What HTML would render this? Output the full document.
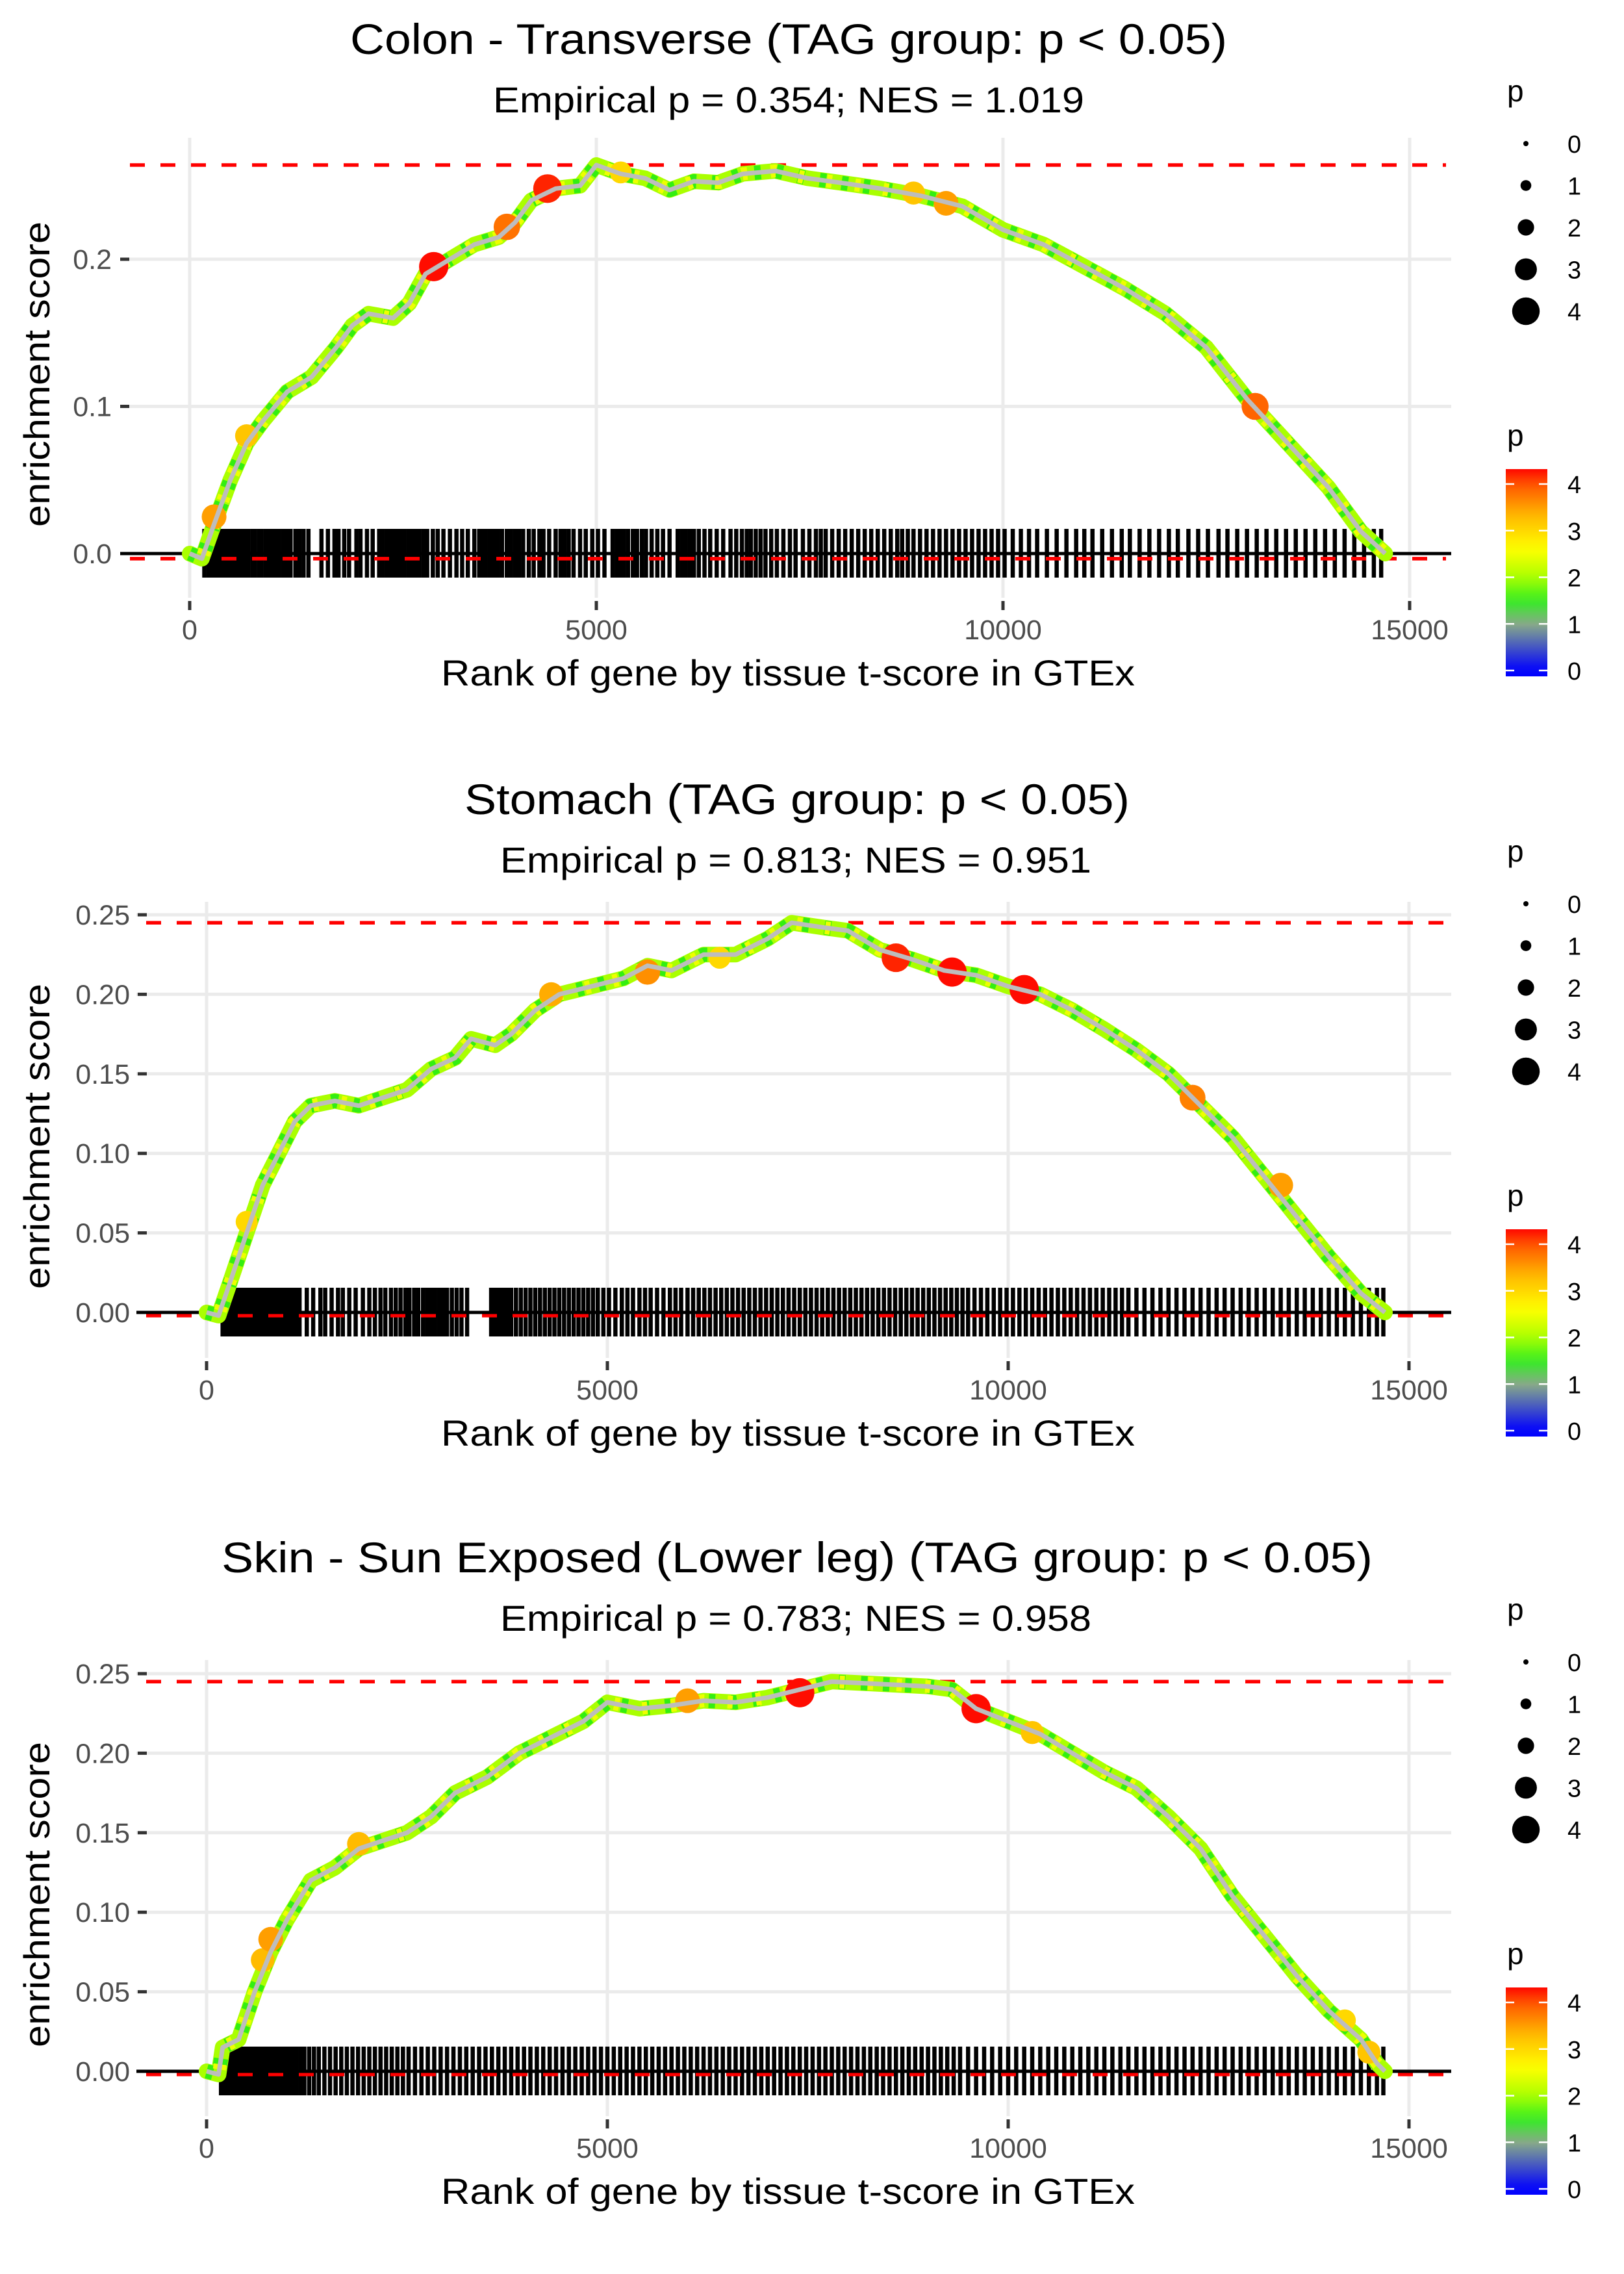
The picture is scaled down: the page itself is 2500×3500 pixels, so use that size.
<!DOCTYPE html>
<html><head><meta charset="utf-8"><style>
html,body{margin:0;padding:0;background:#fff;}
svg{display:block;font-family:"Liberation Sans",sans-serif;}
</style></head><body>
<svg id="fig" xmlns="http://www.w3.org/2000/svg" width="2500" height="3500" viewBox="0 0 2500 3500">
<defs>
<linearGradient id="pgrad" x1="0" y1="1" x2="0" y2="0" gradientUnits="objectBoundingBox"></linearGradient>
</defs>
<rect x="0" y="0" width="2500" height="3500" fill="#fff"/>
</svg>
<script>
// ---------- data ----------
const titles = ["Colon - Transverse (TAG group: p < 0.05)","Stomach (TAG group: p < 0.05)","Skin - Sun Exposed (Lower leg) (TAG group: p < 0.05)"];
const subtitles = ["Empirical p = 0.354; NES = 1.019","Empirical p = 0.813; NES = 0.951","Empirical p = 0.783; NES = 0.958"];
const xTicks = [0,5000,10000,15000];
const xTickLabels = ["0","5000","10000","15000"];
const yTicks1 = [0,0.1,0.2];
const yTickLabels1 = ["0.0","0.1","0.2"];
const yTicks23 = [0,0.05,0.1,0.15,0.2,0.25];
const yTickLabels23 = ["0.00","0.05","0.10","0.15","0.20","0.25"];

const esRanks1 = [0,150,300,500,700,900,1200,1500,1800,2000,2200,2500,2700,2900,3200,3500,3800,4000,4200,4500,4800,5000,5300,5600,5900,6200,6500,6800,7200,7600,8000,8500,9000,9500,10000,10500,11000,11500,12000,12500,13000,13500,14000,14400,14700];
const esVals1  = [0,-0.0035,0.02,0.05,0.075,0.09,0.11,0.12,0.14,0.155,0.163,0.16,0.17,0.19,0.2,0.21,0.215,0.225,0.24,0.248,0.25,0.264,0.258,0.255,0.247,0.253,0.252,0.258,0.26,0.255,0.252,0.248,0.243,0.236,0.22,0.21,0.195,0.18,0.163,0.14,0.105,0.075,0.045,0.015,0];
const bigRanks1 = [300,700,3000,3900,4400,5300,8900,9300,13100];
const bigVals1  = [0.025,0.08,0.195,0.222,0.248,0.259,0.245,0.238,0.1];
const bigP1     = [3.5,3.2,4.3,3.8,4.2,3.0,3.2,3.5,3.9];

const esRanks2 = [0,150,300,500,700,900,1100,1300,1600,1900,2200,2500,2800,3100,3300,3600,3800,4100,4400,4800,5200,5500,5800,6200,6600,7000,7300,7700,8000,8400,8800,9200,9600,10000,10400,10800,11200,11600,12000,12400,12800,13200,13600,14000,14400,14700];
const esVals2  = [0,-0.002,0.02,0.05,0.08,0.1,0.12,0.13,0.133,0.13,0.135,0.14,0.153,0.16,0.172,0.168,0.175,0.19,0.2,0.205,0.21,0.218,0.215,0.225,0.225,0.235,0.245,0.242,0.24,0.228,0.222,0.215,0.212,0.205,0.2,0.19,0.178,0.165,0.15,0.13,0.11,0.085,0.06,0.035,0.012,0];
const bigRanks2 = [500,4300,5500,6400,8600,9300,10200,12300,13400];
const bigVals2  = [0.057,0.2,0.214,0.223,0.223,0.214,0.203,0.135,0.08];
const bigP2     = [3.0,3.4,3.6,3.0,4.2,4.3,4.3,3.7,3.5];

const esRanks3 = [0,150,200,400,600,800,1000,1300,1600,1900,2200,2500,2800,3100,3500,3900,4300,4700,5000,5400,5800,6200,6600,7000,7400,7800,8200,8600,9000,9300,9600,10000,10400,10800,11200,11600,12000,12400,12800,13200,13600,14000,14400,14600,14700];
const esVals3  = [0,-0.002,0.015,0.02,0.05,0.075,0.095,0.12,0.128,0.14,0.145,0.15,0.16,0.175,0.185,0.2,0.21,0.22,0.232,0.228,0.23,0.233,0.232,0.235,0.24,0.245,0.244,0.243,0.242,0.24,0.228,0.22,0.212,0.2,0.188,0.178,0.16,0.14,0.11,0.085,0.06,0.038,0.02,0.005,0];
const bigRanks3 = [700,800,1900,6000,7400,9600,10300,14200,14500];
const bigVals3  = [0.07,0.083,0.143,0.233,0.238,0.228,0.213,0.032,0.012];
const bigP3     = [3.3,3.5,3.3,3.5,4.3,4.3,3.2,3.0,3.2];

const hits1 = [180,230,260,300,340,370,410,450,480,520,560,590,640,680,720,770,800,850,880,930,970,1010,1060,1100,1150,1190,1240,1300,1350,1400,1460,1620,1700,1780,1830,1900,1960,2050,2100,2180,2250,2330,2370,2420,2460,2510,2560,2600,2640,2690,2740,2780,2820,2870,2920,2990,3050,3120,3200,3280,3350,3420,3500,3560,3600,3640,3690,3740,3790,3840,3900,3950,4000,4050,4100,4170,4230,4300,4350,4420,4500,4560,4610,4660,4720,4800,4870,4950,5020,5100,5200,5250,5300,5340,5390,5450,5500,5560,5610,5680,5750,5820,5900,6000,6050,6100,6150,6200,6260,6330,6400,6480,6560,6650,6720,6790,6850,6900,6960,7020,7080,7150,7220,7300,7380,7450,7540,7620,7700,7760,7820,7900,7980,8060,8140,8220,8300,8380,8460,8540,8620,8700,8760,8830,8900,8980,9060,9140,9220,9300,9380,9460,9540,9620,9700,9780,9860,9940,10020,10120,10220,10320,10420,10540,10660,10780,10900,11000,11100,11220,11340,11460,11560,11680,11800,11920,12040,12150,12280,12400,12520,12650,12760,12880,13000,13120,13240,13360,13480,13600,13720,13840,13960,14080,14200,14320,14440,14560,14650];
const hits2 = [200,240,280,310,350,380,420,450,490,530,560,600,640,680,710,750,790,830,860,900,940,980,1020,1060,1110,1160,1250,1330,1420,1480,1560,1640,1700,1780,1860,1950,2030,2100,2170,2230,2300,2360,2420,2480,2530,2590,2640,2700,2750,2800,2850,2900,2950,3000,3060,3120,3180,3250,3550,3600,3650,3700,3750,3800,3860,3920,3980,4040,4100,4160,4220,4280,4340,4400,4460,4520,4580,4640,4700,4760,4820,4880,4950,5020,5100,5180,5250,5320,5400,5470,5540,5620,5700,5780,5850,5920,6000,6070,6140,6210,6280,6350,6420,6490,6560,6630,6700,6770,6840,6910,6980,7050,7120,7190,7260,7330,7400,7470,7540,7610,7680,7750,7820,7890,7960,8030,8100,8170,8240,8310,8380,8450,8520,8590,8660,8730,8800,8870,8940,9010,9080,9150,9220,9290,9360,9430,9500,9580,9660,9740,9820,9900,9980,10060,10140,10220,10300,10380,10460,10540,10620,10700,10780,10860,10940,11020,11100,11180,11260,11340,11420,11500,11600,11700,11800,11900,12000,12100,12200,12300,12400,12500,12600,12700,12800,12900,13000,13100,13200,13300,13400,13500,13600,13700,13800,13900,14000,14100,14200,14300,14400,14500,14600,14680];
const hits3 = [180,220,260,300,340,380,420,460,500,540,580,620,660,700,740,780,820,860,900,940,980,1020,1070,1120,1170,1220,1280,1340,1400,1470,1540,1610,1680,1750,1820,1890,1960,2030,2100,2170,2240,2310,2380,2450,2520,2600,2680,2760,2840,2920,3000,3080,3160,3240,3320,3400,3480,3560,3640,3720,3800,3880,3960,4040,4120,4200,4280,4360,4440,4520,4600,4680,4760,4840,4920,5000,5080,5160,5240,5320,5400,5480,5560,5640,5720,5800,5880,5960,6040,6120,6200,6280,6360,6440,6520,6600,6680,6760,6840,6920,7000,7080,7160,7240,7320,7400,7480,7560,7640,7720,7800,7880,7960,8040,8120,8200,8280,8360,8440,8520,8600,8680,8760,8840,8920,9000,9080,9160,9240,9320,9400,9500,9600,9700,9800,9900,10000,10100,10200,10300,10400,10500,10600,10700,10800,10900,11000,11100,11200,11300,11400,11500,11600,11700,11800,11900,12000,12100,12200,12300,12400,12500,12600,12700,12800,12900,13000,13100,13200,13300,13400,13500,13600,13700,13800,13900,14000,14100,14200,14300,14400,14500,14600,14680];

const sizeLegendValues = [0,1,2,3,4];
const colorLegendValues = [0,1,2,3,4];

// ---------- helpers ----------
const NS = "http://www.w3.org/2000/svg";
const svg = document.getElementById("fig");
function mk(tag, attrs, parent){
  const e = document.createElementNS(NS, tag);
  for (const k in attrs) e.setAttribute(k, attrs[k]);
  (parent || svg).appendChild(e);
  return e;
}
const stops = [[0,[0,0,255]],[1,[136,170,136]],[1.5,[51,238,34]],[2,[170,255,0]],[2.6,[255,255,0]],[3.3,[255,187,0]],[4,[255,85,0]],[4.35,[255,0,0]]];
function pColor(p){
  if (p <= stops[0][0]) return "rgb(0,0,255)";
  for (let i=1;i<stops.length;i++){
    if (p <= stops[i][0]){
      const a=stops[i-1], b=stops[i], t=(p-a[0])/(b[0]-a[0]);
      const c=a[1].map((v,j)=>Math.round(v+(b[1][j]-v)*t));
      return "rgb("+c.join(",")+")";
    }
  }
  return "rgb(255,0,0)";
}
function pRadius(p){ return 4 + 4.3*p; }

const grad = document.getElementById("pgrad");
for (let k=0;k<=20;k++){
  const p = -0.12 + (4.32+0.12)*k/20;
  mk("stop", {offset:(k/20), "stop-color":pColor(p)}, grad);
}

const panels = [
  {dy:0, ox:292, kx:626/5000, oy:852, ky:2265, left:185, right:2234, top:212, bottom:920, tickL:185, tickR:199, labR:172,
   ranks:esRanks1, vals:esVals1, bR:bigRanks1, bV:bigVals1, bP:bigP1, hits:hits1, yt:yTicks1, ytl:yTickLabels1, titleX:1214, subX:1214, titleLen:1350, subLen:910},
  {dy:1170, ox:318, kx:617/5000, oy:2020, ky:2448, left:210, right:2234, top:1388, bottom:2090, tickL:212, tickR:226, labR:200,
   ranks:esRanks2, vals:esVals2, bR:bigRanks2, bV:bigVals2, bP:bigP2, hits:hits2, yt:yTicks23, ytl:yTickLabels23, titleX:1227, subX:1225, titleLen:1024, subLen:910},
  {dy:2337, ox:318, kx:617/5000, oy:3188, ky:2448, left:210, right:2234, top:2555, bottom:3257, tickL:212, tickR:226, labR:200,
   ranks:esRanks3, vals:esVals3, bR:bigRanks3, bV:bigVals3, bP:bigP3, hits:hits3, yt:yTicks23, ytl:yTickLabels23, titleX:1227, subX:1225, titleLen:1772, subLen:910}
];

panels.forEach((P, idx) => {
  const g = mk("g", {});
  
  
  const X = r => P.ox + r*P.kx;
  const Y = v => P.oy - v*P.ky;

  const t = mk("text", {x:P.titleX, y:83+P.dy, "text-anchor":"middle", "font-size":66, fill:"#000", textLength:P.titleLen, lengthAdjust:"spacingAndGlyphs"}, g);
  t.textContent = titles[idx];
  
  
  const st = mk("text", {x:P.subX, y:173+P.dy, "text-anchor":"middle", "font-size":56, fill:"#000", textLength:P.subLen, lengthAdjust:"spacingAndGlyphs"}, g);
  st.textContent = subtitles[idx];
  
  

  const grid = mk("g", {stroke:"#ebebeb", "stroke-width":5}, g);
  
  
  P.yt.forEach(v => { mk("line", {x1:P.left, x2:P.right, y1:Y(v), y2:Y(v)}, grid); });
  xTicks.forEach(r => { mk("line", {x1:X(r), x2:X(r), y1:P.top, y2:P.bottom}, grid); });

  P.yt.forEach((v,i) => {
    const tk = mk("line", {x1:P.tickL, x2:P.tickR, y1:Y(v), y2:Y(v), stroke:"#333", "stroke-width":5}, g);
    
    
    const lb = mk("text", {x:P.labR, y:Y(v)+15, "text-anchor":"end", "font-size":43, fill:"#4d4d4d"}, g);
    lb.textContent = P.ytl[i];
    
    
  });
  xTicks.forEach((r,i) => {
    const tk = mk("line", {x1:X(r), x2:X(r), y1:P.bottom+5, y2:P.bottom+19, stroke:"#333", "stroke-width":5}, g);
    
    
    const lb = mk("text", {x:X(r), y:P.bottom+64, "text-anchor":"middle", "font-size":43, fill:"#4d4d4d"}, g);
    lb.textContent = xTickLabels[i];
    
    
  });
  const xt = mk("text", {x:1213, y:P.bottom+135, "text-anchor":"middle", "font-size":56, fill:"#000", textLength:1068, lengthAdjust:"spacingAndGlyphs"}, g);
  xt.textContent = "Rank of gene by tissue t-score in GTEx";
  
  
  const ycy = (P.top + P.bottom)/2 + 10;
  const yt = mk("text", {x:0, y:0, "text-anchor":"middle", "font-size":56, fill:"#000", transform:"translate(76,"+ycy+") rotate(-90)", textLength:470, lengthAdjust:"spacingAndGlyphs"}, g);
  yt.textContent = "enrichment score";
  
  

  const bc = mk("g", {stroke:"#000", "stroke-width":6.5}, g);
  
  
  P.hits.forEach(r => { mk("line", {x1:X(r), x2:X(r), y1:P.oy-38, y2:P.oy+37}, bc); });

  const maxV = Math.max(...P.vals), minV = Math.min(...P.vals);
  const mx = mk("line", {x1:P.left+15, x2:P.right-8, y1:Y(maxV), y2:Y(maxV), stroke:"#ff0000", "stroke-width":5.5, "stroke-dasharray":"23 24"}, g);
  
  
  const mn = mk("line", {x1:P.left+15, x2:P.right-8, y1:Y(minV), y2:Y(minV), stroke:"#ff0000", "stroke-width":5.5, "stroke-dasharray":"23 24"}, g);
  
  
  const zl = mk("line", {x1:P.left, x2:P.right, y1:Y(0), y2:Y(0), stroke:"#000", "stroke-width":5}, g);
  
  

  const pts = P.ranks.map((r,i) => X(r).toFixed(1)+","+Y(P.vals[i]).toFixed(1)).join(" ");
  const band1 = mk("polyline", {points:pts, fill:"none", stroke:"#aaff00", "stroke-width":24, "stroke-linejoin":"round", "stroke-linecap":"round"}, g);
  
  
  const band2 = mk("polyline", {points:pts, fill:"none", stroke:"#33ee11", "stroke-width":22, "stroke-dasharray":"10 24", "stroke-linejoin":"round"}, g);
  
  
  const band3 = mk("polyline", {points:pts, fill:"none", stroke:"#eeff00", "stroke-width":20, "stroke-dasharray":"8 36", "stroke-dashoffset":"17", "stroke-linejoin":"round"}, g);
  
  
  P.bR.forEach((r,i) => {
    const c = mk("circle", {cx:X(r), cy:Y(P.bV[i]), r:pRadius(P.bP[i]), fill:pColor(P.bP[i])}, g);
    
    
  });
  const line = mk("polyline", {points:pts, fill:"none", stroke:"#bdbdbd", "stroke-width":7, "stroke-linejoin":"round"}, g);
  
  

  const lg = mk("g", {}, g);
  
  
  const lt = mk("text", {x:2320, y:156+P.dy, "font-size":46, fill:"#000"}, lg);
  lt.textContent = "p";
  
  
  sizeLegendValues.forEach((p,i) => {
    const cy = 221 + i*64.5 + P.dy;
    const c = mk("circle", {cx:2349, cy:cy, r:pRadius(p), fill:"#000"}, lg);
    
    
    const tx = mk("text", {x:2413, y:cy+14, "font-size":38, fill:"#000"}, lg);
    tx.textContent = String(p);
    
    
  });
  const cl = mk("g", {}, g);
  
  
  const ct = mk("text", {x:2320, y:686+P.dy, "font-size":46, fill:"#000"}, cl);
  ct.textContent = "p";
  
  
  const bar = mk("rect", {x:2318, y:722+P.dy, width:64, height:319, fill:"url(#pgrad)"}, cl);
  
  
  const cbY = p => 1032 - p*71.75 + P.dy;
  colorLegendValues.forEach(p => {
    mk("line", {x1:2318, x2:2331, y1:cbY(p), y2:cbY(p), stroke:"#fff", "stroke-width":2.5}, cl);
    mk("line", {x1:2369, x2:2382, y1:cbY(p), y2:cbY(p), stroke:"#fff", "stroke-width":2.5}, cl);
    const tx = mk("text", {x:2413, y:cbY(p)+14, "font-size":38, fill:"#000"}, cl);
    tx.textContent = String(p);
    
    
  });
});
</script>
</body></html>
